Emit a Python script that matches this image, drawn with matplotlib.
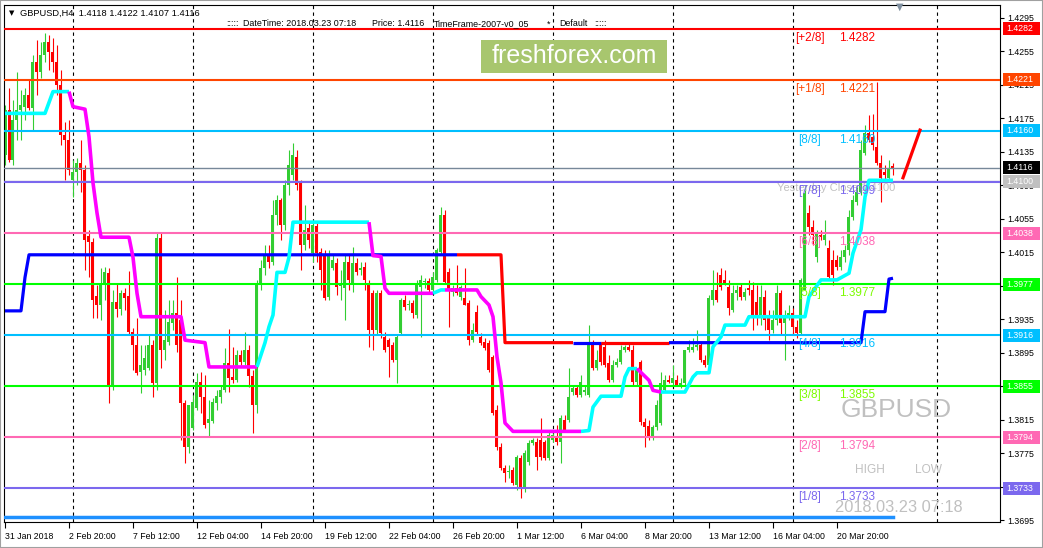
import matplotlib
matplotlib.use('Agg')
import numpy as np
import matplotlib.pyplot as plt
import matplotlib.transforms as mtrans
from matplotlib.patches import Rectangle

plt.rcParams['font.family'] = ['Liberation Sans', 'DejaVu Sans']

# ---- GBPUSD H4 candles (bar index 0 = 31 Jan 2018) ----
opens = [1.4131, 1.4185, 1.4125, 1.4173, 1.4185, 1.4189, 1.4203, 1.4187, 1.4242, 1.4230,
         1.4251, 1.4266, 1.4254, 1.4242, 1.4215, 1.4155, 1.4149, 1.4101, 1.4111, 1.4122,
         1.4113, 1.4034, 1.4027, 1.3963, 1.3952, 1.3976, 1.3990, 1.3856, 1.3956, 1.3947,
         1.3966, 1.3963, 1.3920, 1.3904, 1.3872, 1.3874, 1.3877, 1.3904, 1.3859, 1.4032,
         1.3898, 1.3908, 1.3930, 1.3942, 1.3934, 1.3835, 1.3782, 1.3805, 1.3829, 1.3860,
         1.3842, 1.3811, 1.3813, 1.3835, 1.3842, 1.3850, 1.3883, 1.3866, 1.3862, 1.3892,
         1.3884, 1.3898, 1.3867, 1.3832, 1.3978, 1.3996, 1.4012, 1.4003, 1.4060, 1.4077,
         1.4048, 1.4095, 1.4107, 1.4129, 1.4098, 1.4024, 1.4044, 1.4014, 1.4046, 1.4015,
         1.4012, 1.3961, 1.3996, 1.4002, 1.3975, 1.3972, 1.4003, 1.3978, 1.4002, 1.3994,
         1.3997, 1.3978, 1.3966, 1.3922, 1.3966, 1.3914, 1.3910, 1.3904, 1.3886, 1.3919,
         1.3958, 1.3952, 1.3954, 1.3940, 1.3974, 1.3979, 1.3981, 1.3970, 1.3982, 1.4015,
         1.4060, 1.3991, 1.3968, 1.3972, 1.3962, 1.3960, 1.3954, 1.3910, 1.3944, 1.3914,
         1.3908, 1.3907, 1.3890, 1.3827, 1.3782, 1.3757, 1.3752, 1.3755, 1.3737, 1.3769,
         1.3733, 1.3764, 1.3787, 1.3788, 1.3791, 1.3788, 1.3769, 1.3791, 1.3794, 1.3788,
         1.3815, 1.3815, 1.3848, 1.3853, 1.3844, 1.3848, 1.3844, 1.3904, 1.3877, 1.3904,
         1.3902, 1.3883, 1.3862, 1.3880, 1.3884, 1.3898, 1.3902, 1.3898, 1.3860, 1.3884,
         1.3812, 1.3807, 1.3794, 1.3806, 1.3811, 1.3850, 1.3862, 1.3859, 1.3862, 1.3856,
         1.3859, 1.3898, 1.3898, 1.3902, 1.3904, 1.3886, 1.3880, 1.3958, 1.3970, 1.3988,
         1.3982, 1.3974, 1.3946, 1.3966, 1.3974, 1.3962, 1.3972, 1.3970, 1.3956, 1.3938,
         1.3962, 1.3938, 1.3922, 1.3934, 1.3966, 1.3930, 1.3940, 1.3942, 1.3926, 1.3919,
         1.3970, 1.4062, 1.4045, 1.4009, 1.4036, 1.4030, 1.4020, 1.4006, 1.4006, 1.3997,
         1.4009, 1.4018, 1.4057, 1.4075, 1.4087, 1.4134, 1.4158, 1.4153, 1.4141, 1.4122,
         1.4111, 1.4104, 1.4118]
highs = [1.4191, 1.4211, 1.4197, 1.4230, 1.4209, 1.4211, 1.4221, 1.4251, 1.4269, 1.4266,
         1.4277, 1.4275, 1.4271, 1.4263, 1.4233, 1.4171, 1.4173, 1.4125, 1.4128, 1.4149,
         1.4119, 1.4042, 1.4032, 1.3976, 1.3996, 1.3997, 1.3996, 1.3970, 1.3978, 1.3970,
         1.3972, 1.3993, 1.3925, 1.3936, 1.3904, 1.3904, 1.3916, 1.3910, 1.4038, 1.4038,
         1.3946, 1.3958, 1.3958, 1.3985, 1.3958, 1.3838, 1.3832, 1.3844, 1.3871, 1.3872,
         1.3868, 1.3838, 1.3841, 1.3850, 1.3856, 1.3901, 1.3923, 1.3902, 1.3898, 1.3898,
         1.3920, 1.3904, 1.3874, 1.3982, 1.4006, 1.4024, 1.4024, 1.4077, 1.4083, 1.4080,
         1.4101, 1.4137, 1.4146, 1.4137, 1.4101, 1.4072, 1.4051, 1.4054, 1.4051, 1.4020,
         1.4018, 1.4018, 1.4012, 1.4008, 1.3994, 1.4012, 1.4012, 1.4021, 1.4008, 1.4003,
         1.4003, 1.3982, 1.3970, 1.3970, 1.3970, 1.3920, 1.3913, 1.3908, 1.3916, 1.3960,
         1.3964, 1.3958, 1.3958, 1.3982, 1.3988, 1.3984, 1.3984, 1.3991, 1.4020, 1.4069,
         1.4066, 1.3996, 1.3976, 1.4000, 1.3976, 1.3996, 1.3958, 1.3930, 1.3952, 1.3919,
         1.3913, 1.3910, 1.3892, 1.3832, 1.3787, 1.3761, 1.3761, 1.3758, 1.3773, 1.3773,
         1.3779, 1.3791, 1.3793, 1.3793, 1.3817, 1.3791, 1.3800, 1.3799, 1.3809, 1.3821,
         1.3821, 1.3877, 1.3856, 1.3856, 1.3868, 1.3856, 1.3928, 1.3910, 1.3898, 1.3908,
         1.3910, 1.3892, 1.3886, 1.3889, 1.3904, 1.3904, 1.3907, 1.3904, 1.3877, 1.3886,
         1.3817, 1.3815, 1.3809, 1.3839, 1.3872, 1.3868, 1.3868, 1.3880, 1.3868, 1.3865,
         1.3898, 1.3910, 1.3913, 1.3922, 1.3908, 1.3892, 1.3964, 1.3994, 1.3991, 1.3996,
         1.3994, 1.3982, 1.3976, 1.3976, 1.3978, 1.3972, 1.3982, 1.3979, 1.3976, 1.3976,
         1.3970, 1.3946, 1.3946, 1.3976, 1.3970, 1.3946, 1.3952, 1.3948, 1.3934, 1.3984,
         1.4095, 1.4072, 1.4054, 1.4042, 1.4042, 1.4054, 1.4030, 1.4018, 1.4012, 1.4018,
         1.4024, 1.4066, 1.4083, 1.4095, 1.4149, 1.4167, 1.4179, 1.4180, 1.4218, 1.4131,
         1.4119, 1.4125, 1.4122]
lows = [1.4119, 1.4123, 1.4119, 1.4149, 1.4149, 1.4173, 1.4185, 1.4161, 1.4203, 1.4223,
        1.4242, 1.4233, 1.4230, 1.4203, 1.4143, 1.4101, 1.4107, 1.4081, 1.4095, 1.4087,
        1.3994, 1.3985, 1.3936, 1.3936, 1.3934, 1.3958, 1.3835, 1.3850, 1.3938, 1.3940,
        1.3946, 1.3916, 1.3874, 1.3868, 1.3847, 1.3868, 1.3874, 1.3842, 1.3850, 1.3877,
        1.3886, 1.3904, 1.3922, 1.3896, 1.3791, 1.3763, 1.3775, 1.3803, 1.3827, 1.3823,
        1.3805, 1.3794, 1.3811, 1.3827, 1.3835, 1.3848, 1.3848, 1.3859, 1.3860, 1.3880,
        1.3880, 1.3854, 1.3799, 1.3823, 1.3970, 1.3988, 1.3996, 1.4000, 1.4048, 1.4030,
        1.4042, 1.4083, 1.4101, 1.4089, 1.3994, 1.4018, 1.4020, 1.4003, 1.4003, 1.3970,
        1.3958, 1.3958, 1.3994, 1.3964, 1.3958, 1.3934, 1.3970, 1.3968, 1.3988, 1.3988,
        1.3970, 1.3902, 1.3898, 1.3916, 1.3913, 1.3896, 1.3866, 1.3884, 1.3859, 1.3916,
        1.3946, 1.3946, 1.3936, 1.3936, 1.3914, 1.3972, 1.3968, 1.3968, 1.3979, 1.4013,
        1.3978, 1.3926, 1.3963, 1.3964, 1.3958, 1.3952, 1.3904, 1.3908, 1.3916, 1.3904,
        1.3898, 1.3872, 1.3821, 1.3779, 1.3755, 1.3740, 1.3745, 1.3737, 1.3731, 1.3721,
        1.3729, 1.3761, 1.3785, 1.3755, 1.3767, 1.3767, 1.3767, 1.3788, 1.3785, 1.3763,
        1.3800, 1.3812, 1.3844, 1.3842, 1.3842, 1.3844, 1.3842, 1.3874, 1.3874, 1.3880,
        1.3878, 1.3860, 1.3860, 1.3878, 1.3882, 1.3896, 1.3897, 1.3856, 1.3856, 1.3809,
        1.3782, 1.3791, 1.3791, 1.3803, 1.3809, 1.3848, 1.3859, 1.3856, 1.3856, 1.3853,
        1.3856, 1.3896, 1.3896, 1.3898, 1.3884, 1.3878, 1.3877, 1.3952, 1.3956, 1.3970,
        1.3976, 1.3940, 1.3944, 1.3958, 1.3958, 1.3958, 1.3964, 1.3922, 1.3928, 1.3928,
        1.3922, 1.3910, 1.3919, 1.3928, 1.3916, 1.3886, 1.3934, 1.3916, 1.3913, 1.3916,
        1.3970, 1.4036, 1.4024, 1.4003, 1.4030, 1.4024, 1.3982, 1.3976, 1.3994, 1.3994,
        1.4003, 1.4012, 1.4054, 1.4072, 1.4083, 1.4131, 1.4147, 1.4137, 1.4119, 1.4075,
        1.4101, 1.4101, 1.4107]
closes = [1.4185, 1.4125, 1.4173, 1.4185, 1.4191, 1.4203, 1.4187, 1.4242, 1.4230, 1.4251,
          1.4266, 1.4254, 1.4242, 1.4215, 1.4155, 1.4149, 1.4113, 1.4111, 1.4122, 1.4113,
          1.4030, 1.4027, 1.3958, 1.3952, 1.3976, 1.3991, 1.3856, 1.3956, 1.3947, 1.3966,
          1.3960, 1.3920, 1.3904, 1.3871, 1.3880, 1.3889, 1.3904, 1.3859, 1.4032, 1.3898,
          1.3910, 1.3932, 1.3942, 1.3904, 1.3835, 1.3782, 1.3832, 1.3836, 1.3860, 1.3842,
          1.3809, 1.3816, 1.3836, 1.3843, 1.3850, 1.3883, 1.3865, 1.3862, 1.3892, 1.3884,
          1.3898, 1.3867, 1.3832, 1.3978, 1.3996, 1.4012, 1.4003, 1.4060, 1.4077, 1.4048,
          1.4095, 1.4119, 1.4131, 1.4095, 1.4024, 1.4042, 1.4030, 1.4048, 1.4014, 1.3994,
          1.3960, 1.4011, 1.4006, 1.3974, 1.3977, 1.4003, 1.3982, 1.4002, 1.3991, 1.3996,
          1.3982, 1.3922, 1.3922, 1.3966, 1.3919, 1.3898, 1.3902, 1.3886, 1.3914, 1.3958,
          1.3950, 1.3953, 1.3942, 1.3978, 1.3982, 1.3981, 1.3970, 1.3985, 1.4018, 1.4060,
          1.3979, 1.3970, 1.3972, 1.3966, 1.3974, 1.3952, 1.3910, 1.3922, 1.3920, 1.3907,
          1.3901, 1.3874, 1.3823, 1.3782, 1.3757, 1.3751, 1.3754, 1.3739, 1.3770, 1.3733,
          1.3775, 1.3787, 1.3791, 1.3770, 1.3770, 1.3769, 1.3797, 1.3797, 1.3788, 1.3817,
          1.3803, 1.3842, 1.3853, 1.3844, 1.3860, 1.3850, 1.3907, 1.3877, 1.3886, 1.3884,
          1.3880, 1.3862, 1.3880, 1.3884, 1.3898, 1.3902, 1.3898, 1.3860, 1.3874, 1.3812,
          1.3806, 1.3794, 1.3806, 1.3832, 1.3859, 1.3862, 1.3860, 1.3865, 1.3856, 1.3859,
          1.3898, 1.3902, 1.3902, 1.3904, 1.3886, 1.3880, 1.3960, 1.3970, 1.3958, 1.3974,
          1.3978, 1.3948, 1.3966, 1.3970, 1.3962, 1.3968, 1.3970, 1.3940, 1.3938, 1.3962,
          1.3934, 1.3922, 1.3934, 1.3966, 1.3930, 1.3940, 1.3942, 1.3926, 1.3919, 1.3982,
          1.4086, 1.4045, 1.4036, 1.4038, 1.4033, 1.4036, 1.3985, 1.3988, 1.3997, 1.4009,
          1.4018, 1.4057, 1.4077, 1.4087, 1.4137, 1.4158, 1.4149, 1.4143, 1.4122, 1.4104,
          1.4107, 1.4116, 1.4116]

# ---- trend indicator (cyan rising / magenta falling), vertices ----
trend_bars = [0, 10, 12, 16, 17, 20, 21, 22, 23, 24, 31, 32, 33, 34, 44, 45, 50, 51, 63, 65,
              66, 67, 68, 70, 71, 72, 91, 92, 94, 95, 96, 107, 109, 110, 118, 119, 121, 122, 123, 124,
              125, 127, 144, 146, 147, 149, 154, 155, 156, 158, 161, 162, 164, 170, 172, 173, 176, 177,
              179, 180, 185, 186, 200, 201, 204, 208, 211, 212, 214, 215, 216, 222]
trend_vals = [1.4181, 1.4181, 1.4207, 1.4207, 1.4189, 1.4186, 1.4153, 1.4098, 1.4062, 1.4033,
              1.4033, 1.4009, 1.3966, 1.3938, 1.3938, 1.3910, 1.3907, 1.3878, 1.3878, 1.3907,
              1.3926, 1.3940, 1.3991, 1.3991, 1.4009, 1.4051, 1.4051, 1.4011, 1.4010, 1.3972,
              1.3966, 1.3966, 1.3970, 1.3970, 1.3970, 1.3962, 1.3952, 1.3938, 1.3890, 1.3859,
              1.3811, 1.3801, 1.3801, 1.3802, 1.3830, 1.3843, 1.3843, 1.3866, 1.3876, 1.3876,
              1.3862, 1.3850, 1.3848, 1.3848, 1.3866, 1.3871, 1.3871, 1.3902, 1.3914, 1.3928,
              1.3928, 1.3938, 1.3938, 1.3962, 1.3982, 1.3982, 1.3990, 1.4014, 1.4042, 1.4081,
              1.4101, 1.4101]
trend_turns = [0, 16, 63, 91, 107, 110, 144, 158, 164, 222]   # colour alternates cyan/magenta

# ---- step line (blue / red) ----
step_bars = [0, 4, 5, 6, 113, 124, 125, 142, 149, 166, 214, 215, 220, 221, 222]
step_vals = [1.3945, 1.3945, 1.3985, 1.4012, 1.4012, 1.4012, 1.3907, 1.3907, 1.3907, 1.3907,
             1.3907, 1.3944, 1.3944, 1.3983, 1.3984]
step_turns = [0, 113, 142, 149, 166, 222]   # blue, red, blue, red, blue

proj_bars = [224.5, 228.75]
proj_vals = [1.4104, 1.4161]
bottom_val = 1.3699

# ---- Murrey math levels ----
level_names = ['[+2/8]', '[+1/8]', '[8/8]', '[7/8]', '[6/8]', '[5/8]', '[4/8]', '[3/8]', '[2/8]', '[1/8]']
level_vals = [1.4282, 1.4221, 1.4160, 1.4099, 1.4038, 1.3977, 1.3916, 1.3855, 1.3794, 1.3733]
level_colors = ['#FF0000', '#FF4500', '#00BFFF', '#7B68EE', '#FF69B4', '#00FF00', '#00BFFF', '#00FF00', '#FF69B4', '#7B68EE']
level_text_colors = ['#FF0000', '#FF4500', '#00BFFF', '#7B68EE', '#FF69B4', '#7CFC00', '#00BFFF', '#7CFC00', '#FF69B4', '#7B68EE']
current_price = 1.4116
yesterday_close = 1.4100

box_vals = [1.4282, 1.4221, 1.4160, 1.4116, 1.4100, 1.4038, 1.3977, 1.3916, 1.3855, 1.3794, 1.3733]
box_colors = ['#FF0000', '#FF4500', '#00BFFF', '#000000', '#C0C0C0', '#FF69B4', '#00FF00', '#00BFFF', '#00FF00', '#FF69B4', '#7B68EE']

y_ticks = [1.4295, 1.4255, 1.4215, 1.4175, 1.4135, 1.4095, 1.4055, 1.4015,
           1.3975, 1.3935, 1.3895, 1.3855, 1.3815, 1.3775, 1.3735, 1.3695]
hidden_ticks = [1.3975, 1.3855]   # fully covered by the level boxes
x_tick_bars = [0, 16, 32, 48, 64, 80, 96, 112, 128, 144, 160, 176, 192, 208]
x_tick_labels = ['31 Jan 2018', '2 Feb 20:00', '7 Feb 12:00', '12 Feb 04:00', '14 Feb 20:00',
                 '19 Feb 12:00', '22 Feb 04:00', '26 Feb 20:00', '1 Mar 12:00', '6 Mar 04:00',
                 '8 Mar 20:00', '13 Mar 12:00', '16 Mar 04:00', '20 Mar 20:00']
grid_bars = [17, 47, 77, 107, 137, 167, 197, 233]

W, H = 1043, 548
fig = plt.figure(figsize=(W / 100, H / 100), dpi=100)
ax = fig.add_axes([4 / W, 1 - 522 / H, 996 / W, 517 / H])
ax.set_xlim(-0.25, 248.75)
ax.set_ylim(1.36927, 1.43105)

for b in grid_bars:
    ax.axvline(b, color='black', lw=0.8, ls=(0, (3, 3)), zorder=1)

# candles
o = np.array(opens); h = np.array(highs); l = np.array(lows); c = np.array(closes)
x = np.arange(len(c))
col = np.where(c >= o, '#32CD32', '#FF0000')
ax.vlines(x, l, h, colors=col, lw=0.8, zorder=2)
ax.bar(x, np.maximum(np.abs(c - o), 0.00008), width=0.75, bottom=np.minimum(o, c),
       color=col, lw=0, zorder=2)

# horizontal levels
ax.axhline(current_price, color='#778899', lw=1.0, zorder=3)
ax.axhline(yesterday_close + 0.00004, color='#C0C0C0', lw=1.0, zorder=3)
for v, cl in zip(level_vals, level_colors):
    ax.axhline(v, color=cl, lw=1.5, zorder=3)
ax.plot([0, len(c) - 1], [bottom_val, bottom_val], color='#1E90FF', lw=2.5, zorder=3)

# step line
tb = np.array(step_bars); tv = np.array(step_vals)
for k in range(len(step_turns) - 1):
    a, b = step_turns[k], step_turns[k + 1]
    m = (tb >= a) & (tb <= b)
    ax.plot(tb[m], tv[m], color='#0000FF' if k % 2 == 0 else '#FF0000', lw=2.3,
            solid_capstyle='butt', zorder=4)

# trend line
tb = np.array(trend_bars); tv = np.array(trend_vals)
for k in range(len(trend_turns) - 1):
    a, b = trend_turns[k], trend_turns[k + 1]
    m = (tb >= a) & (tb <= b)
    ax.plot(tb[m], tv[m], color='#00FFFF' if k % 2 == 0 else '#FF00FF', lw=2.6,
            solid_capstyle='butt', zorder=4)

ax.plot(proj_bars, proj_vals, color='#FF0000', lw=2.3, zorder=4)

# level labels
for name, v, tc in zip(level_names, level_vals, level_text_colors):
    ax.annotate(name, (201.25, v), xytext=(0, -2), textcoords='offset points',
                ha='center', va='top', fontsize=8.5, color=tc, zorder=6)
    ax.annotate('%.4f' % v, (208.5, v), xytext=(0, -2), textcoords='offset points',
                ha='left', va='top', fontsize=8.5, color=tc, zorder=6)
ax.annotate('Yesterday Close %.4f' % yesterday_close, (193, yesterday_close), xytext=(0, -1),
            textcoords='offset points', ha='left', va='top', fontsize=8, color='#C0C0C0', zorder=5)

# axes styling
ax.yaxis.tick_right()
ax.set_yticks(y_ticks)
ax.set_yticklabels(['' if t in hidden_ticks else '%.4f' % t for t in y_ticks])
ax.tick_params(axis='y', length=3, pad=2, labelsize=6.3, width=0.8)
ax.set_xticks(x_tick_bars)
ax.set_xticklabels(x_tick_labels, ha='left')
ax.tick_params(axis='x', length=4, pad=3, labelsize=6.3, width=0.8)
for s in ax.spines.values():
    s.set_color('black')
    s.set_linewidth(0.8)

trans = mtrans.blended_transform_factory(ax.transAxes, ax.transData)
for v, bc in zip(box_vals, box_colors):
    ax.add_patch(Rectangle((1.003, v - 0.00078), 0.0372, 0.00156, transform=trans,
                           facecolor=bc, edgecolor='none', clip_on=False, zorder=7))
    ax.text(1.0065, v, '%.4f' % v, transform=trans, ha='left', va='center', fontsize=6.3,
            color='white', clip_on=False, zorder=8)

# header texts
fig.text(12 / W, 1 - 13 / H, '\u25bc', fontsize=5, ha='center', va='center', family='DejaVu Sans')
fig.text(20 / W, 1 - 13 / H, 'GBPUSD,H4  1.4118 1.4122 1.4107 1.4116', fontsize=6.7, va='center')
header2 = [(226, ':::::'), (243, 'DateTime: 2018.03.23 07:18'), (372, 'Price: 1.4116'),
           (434, 'TimeFrame-2007-v0_05'), (547, '*'), (559, 'Default'), (594, ':::::')]
for px, t in header2:
    fig.text(px / W, 1 - 24 / H, t, fontsize=6.4, va='center')
fig.text(900 / W, 1 - 7 / H, '\u25bc', fontsize=7, ha='center', va='center', color='#8090A0',
         family='DejaVu Sans')

# watermark / logo
fig.add_artist(Rectangle((481 / W, 1 - 73 / H), 186 / W, 33 / H, transform=fig.transFigure,
                         facecolor='#A8C66E', edgecolor='none', zorder=5))
fig.text(574 / W, 1 - 56 / H, 'freshforex.com', fontsize=18, color='white', ha='center',
         va='center', zorder=6)
fig.text(896 / W, 1 - 410 / H, 'GBPUSD', fontsize=19, color='#C0C0C0', ha='center', va='center')
fig.text(870 / W, 1 - 470 / H, 'HIGH', fontsize=8.6, color='#C0C0C0', ha='center', va='center')
fig.text(929 / W, 1 - 470 / H, 'LOW', fontsize=8.6, color='#C0C0C0', ha='center', va='center')
fig.text(899 / W, 1 - 508 / H, '2018.03.23 07:18', fontsize=11.8, color='#C0C0C0', ha='center',
         va='center')

fig.add_artist(Rectangle((0, 0), 1, 1, transform=fig.transFigure, fill=False,
                         edgecolor='#A0A0A0', lw=1.5))

fig.savefig('out.png', dpi=100)
